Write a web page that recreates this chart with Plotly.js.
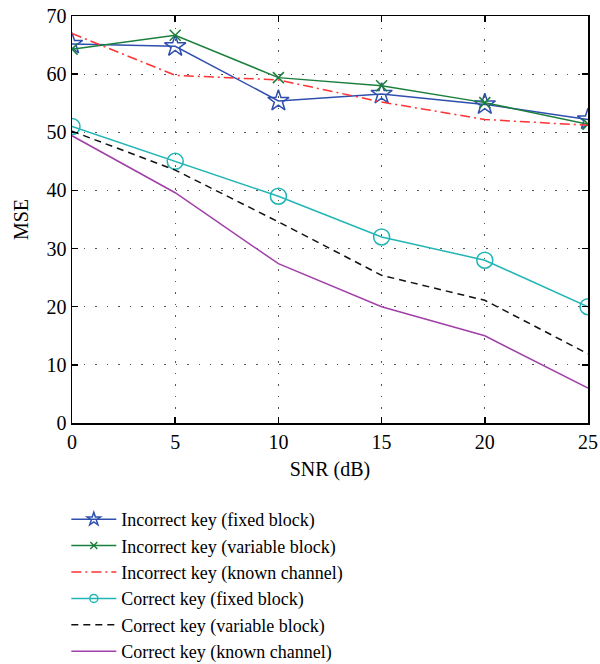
<!DOCTYPE html>
<html>
<head>
<meta charset="utf-8">
<script src="https://cdn.plot.ly/plotly-3.0.1.min.js"></script>
<style>html,body{margin:0;padding:0;background:#fff;}#chart{width:600px;height:664px;}</style>
</head>
<body>
<div id="chart"></div>
<script>
const snr = [0, 5, 10, 15, 20, 25];
const incorrectFixed = [65.2, 64.8, 55.4, 56.6, 54.8, 52.2];
const incorrectVariable = [64.3, 66.7, 59.4, 58.0, 55.1, 51.4];
const incorrectKnown = [67.0, 59.8, 59.0, 55.2, 52.2, 51.2];
const correctFixed = [51, 45, 39, 32, 28, 20];
const correctVariable = [50.2, 43.5, 34.6, 25.4, 21.1, 11.9];
const correctKnown = [49.4, 39.6, 27.4, 20.0, 15.0, 6.0];
const seriesNames = [
  'Incorrect key (fixed block)',
  'Incorrect key (variable block)',
  'Incorrect key (known channel)',
  'Correct key (fixed block)',
  'Correct key (variable block)',
  'Correct key (known channel)'
];
const yTicks = [0, 10, 20, 30, 40, 50, 60, 70];
const xTicks = [0, 5, 10, 15, 20, 25];

const font = "'Liberation Serif', 'Times New Roman', serif";

const styles = [
  {mode: 'lines+markers', color: '#2f4fae', symbol: 'star-open', size: 16, legSize: 10},
  {mode: 'lines+markers', color: '#1b7f3c', symbol: 'x-thin-open', size: 11, legSize: 7},
  {mode: 'lines', color: '#ff3333', dash: '10px,4px,2px,4px'},
  {mode: 'lines+markers', color: '#22b5b5', symbol: 'circle-open', size: 16, legSize: 8},
  {mode: 'lines', color: '#111111', dash: '7px,5px'},
  {mode: 'lines', color: '#a040a8'}
];
const values = [incorrectFixed, incorrectVariable, incorrectKnown, correctFixed, correctVariable, correctKnown];

const traces = [];
values.forEach((ys, i) => {
  const s = styles[i];
  const line = {color: s.color, width: 1.5};
  if (s.dash) line.dash = s.dash;
  const t = {x: snr, y: ys, name: seriesNames[i], mode: s.mode, line: line,
             legendgroup: 'g' + i, showlegend: false};
  if (s.symbol) t.marker = {symbol: s.symbol, size: s.size, color: s.color, line: {width: 1.5, color: s.color}};
  traces.push(t);
});
// legend entries (no plotted points; smaller symbols like the reference key)
values.forEach((ys, i) => {
  const s = styles[i];
  const line = {color: s.color, width: 1.5};
  if (s.dash) line.dash = s.dash;
  const t = {x: [null], y: [null], name: seriesNames[i], mode: s.mode, line: line,
             legendgroup: 'g' + i, showlegend: true, hoverinfo: 'skip'};
  if (s.symbol) t.marker = {symbol: s.symbol, size: s.legSize, color: s.color, line: {width: 1.5, color: s.color}};
  traces.push(t);
});

const axisCommon = {
  showline: true, linecolor: '#000', linewidth: 1.5, mirror: 'ticks',
  ticks: 'inside', ticklen: 6, tickcolor: '#000', tickwidth: 1.5,
  showgrid: true, gridcolor: '#555', gridwidth: 1, griddash: '1.5px,10px',
  zeroline: false, tickfont: {family: font, size: 20, color: '#000'}
};

const layout = {
  width: 600, height: 664,
  margin: {l: 72, r: 12, t: 16, b: 241, autoexpand: false},
  paper_bgcolor: '#fff', plot_bgcolor: '#fff',
  font: {family: font, color: '#000'},
  xaxis: Object.assign({}, axisCommon, {
    range: [0, 25], tickvals: xTicks, ticktext: xTicks.map(String),
    title: {text: 'SNR (dB)', font: {family: font, size: 20, color: '#000'}, standoff: 10}
  }),
  yaxis: Object.assign({}, axisCommon, {
    range: [0, 70], tickvals: yTicks, ticktext: yTicks.map(String),
    title: {text: 'MSE', font: {family: font, size: 20, color: '#000'}, standoff: 12}
  }),
  showlegend: true,
  legend: {
    x: -0.011, xanchor: 'left', y: -0.1916, yanchor: 'top',
    orientation: 'v', bgcolor: 'rgba(0,0,0,0)',
    font: {family: font, size: 18, color: '#000'},
    itemwidth: 45, tracegroupgap: 0, traceorder: 'normal'
  }
};

Plotly.newPlot('chart', traces, layout, {displayModeBar: false, staticPlot: true});
</script>
</body>
</html>
